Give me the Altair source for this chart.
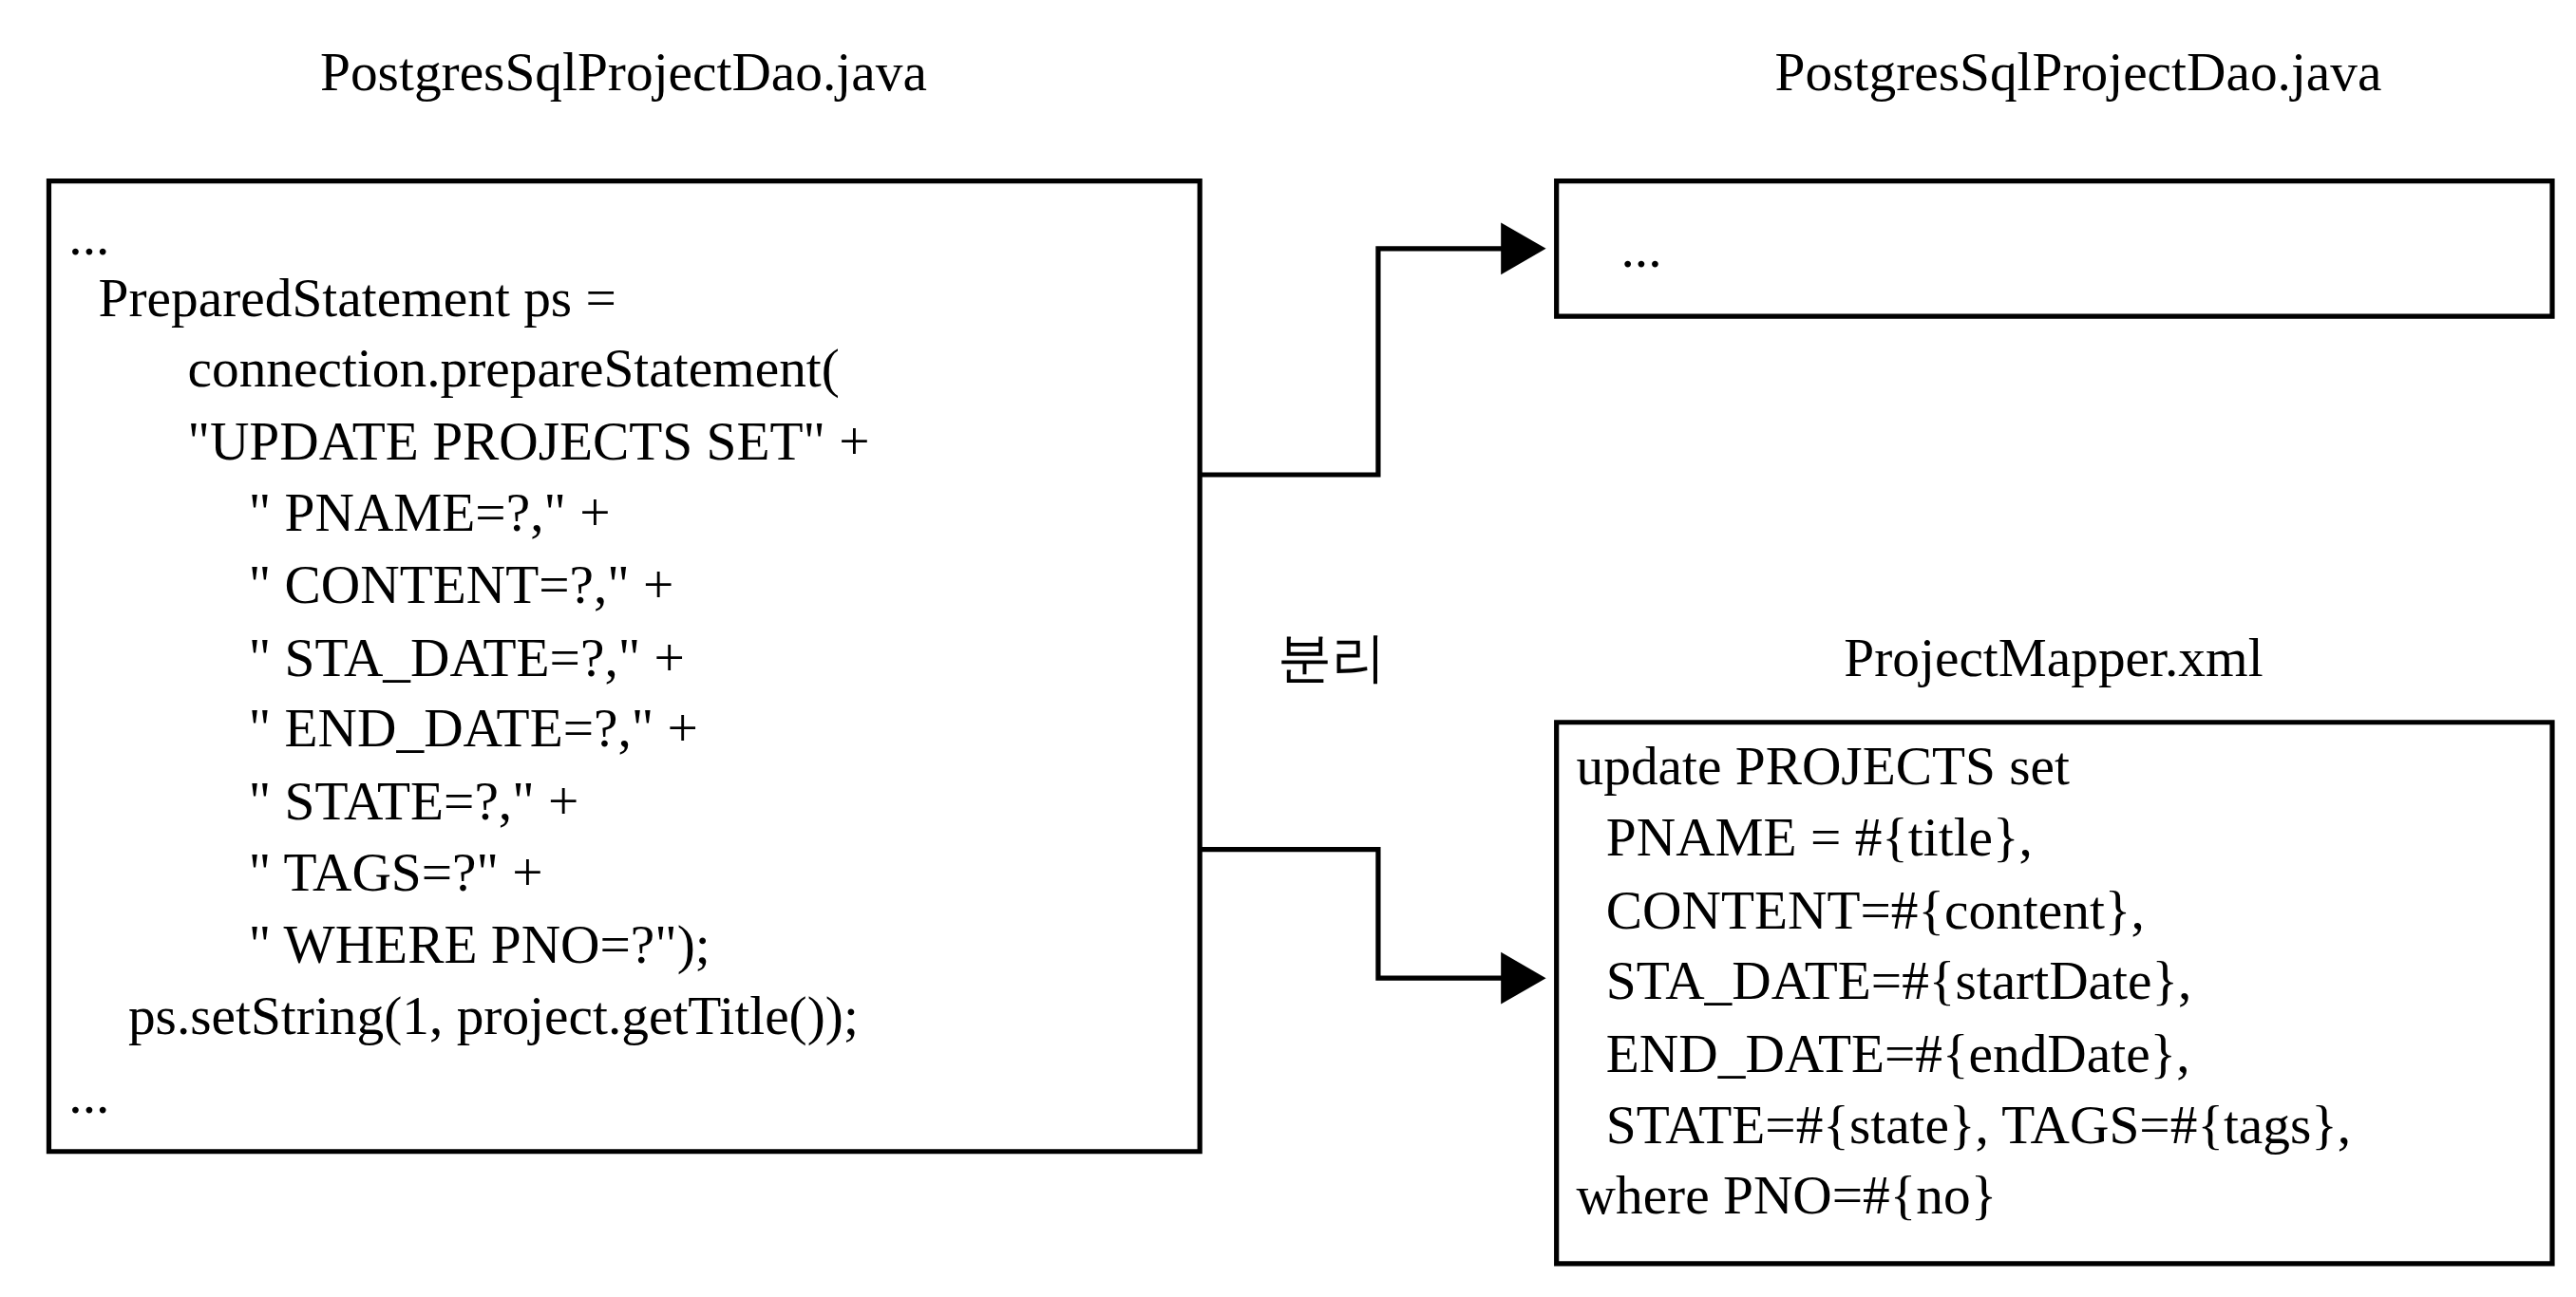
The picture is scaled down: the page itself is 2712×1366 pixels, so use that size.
import altair as alt
import pandas as pd

# reference coordinates (picture is drawn at ~1560x790 and scaled up)
S = 2712 / 1560

box_x1 = [25, 938, 938]
box_x2 = [722, 1541, 1541]
box_y1 = [105, 105, 433]
box_y2 = [693, 187, 761]

titles = ["PostgresSqlProjectDao.java", "PostgresSqlProjectDao.java", "ProjectMapper.xml", "분리"]
title_x = [373, 1254, 1239, 802]
title_y = [40, 40, 395, 395]

code_lines = [
    "...",
    "PreparedStatement ps =",
    "connection.prepareStatement(",
    "\"UPDATE PROJECTS SET\" +",
    "\" PNAME=?,\" +",
    "\" CONTENT=?,\" +",
    "\" STA_DATE=?,\" +",
    "\" END_DATE=?,\" +",
    "\" STATE=?,\" +",
    "\" TAGS=?\" +",
    "\" WHERE PNO=?\");",
    "ps.setString(1, project.getTitle());",
    "...",
    "...",
    "update PROJECTS set",
    "PNAME = #{title},",
    "CONTENT=#{content},",
    "STA_DATE=#{startDate},",
    "END_DATE=#{endDate},",
    "STATE=#{state}, TAGS=#{tags},",
    "where PNO=#{no}",
]
code_x = [37, 55, 109, 109, 146, 146, 146, 146, 146, 146, 146, 73, 37,
          977, 950, 968, 968, 968, 968, 968, 950]
code_y = [140, 177, 220, 264, 307, 351, 395, 438, 482, 525, 569, 612, 660,
          147, 461, 504, 548, 591, 635, 678, 721]

arrow_id = [1, 1, 1, 1, 2, 2, 2, 2]
arrow_x = [722, 830, 830, 905, 722, 830, 830, 905]
arrow_y = [283, 283, 146, 146, 510, 510, 588, 588]
head_x = [918, 918]
head_y = [146, 588]

W, H = 2696, 1350
xs = alt.Scale(domain=[0, W / S], range=[0, W])
ys = alt.Scale(domain=[0, H / S], range=[0, H])
no = dict(axis=None)

boxes = alt.Chart(pd.DataFrame({"x": box_x1, "x2": box_x2, "y": box_y1, "y2": box_y2})).mark_rect(
    fill=None, stroke="black", strokeWidth=3 * S
).encode(
    x=alt.X("x:Q", scale=xs, **no), x2="x2:Q",
    y=alt.Y("y:Q", scale=ys, **no), y2="y2:Q",
)

fnt = "Liberation Serif"
head_text = alt.Chart(pd.DataFrame({"t": titles, "x": title_x, "y": title_y})).mark_text(
    font=fnt, fontSize=33 * S, align="center", baseline="middle", color="black"
).encode(x=alt.X("x:Q", scale=xs, **no), y=alt.Y("y:Q", scale=ys, **no), text="t:N")

code = alt.Chart(pd.DataFrame({"t": code_lines, "x": code_x, "y": code_y})).mark_text(
    font=fnt, fontSize=33 * S, align="left", baseline="middle", color="black"
).encode(x=alt.X("x:Q", scale=xs, **no), y=alt.Y("y:Q", scale=ys, **no), text="t:N")

arrows = alt.Chart(pd.DataFrame({"id": arrow_id, "x": arrow_x, "y": arrow_y,
                                 "o": list(range(len(arrow_x)))})).mark_line(
    color="black", strokeWidth=3 * S
).encode(x=alt.X("x:Q", scale=xs, **no), y=alt.Y("y:Q", scale=ys, **no),
         detail="id:N", order="o:Q")

heads = alt.Chart(pd.DataFrame({"x": head_x, "y": head_y})).mark_point(
    shape="triangle-right", filled=True, color="black", opacity=1, size=3000
).encode(x=alt.X("x:Q", scale=xs, **no), y=alt.Y("y:Q", scale=ys, **no))

chart = alt.layer(boxes, arrows, heads, head_text, code).properties(
    width=W, height=H, padding=0
).configure_view(stroke=None)

chart.save("out.html", embed_options={"renderer": "svg", "actions": False})
